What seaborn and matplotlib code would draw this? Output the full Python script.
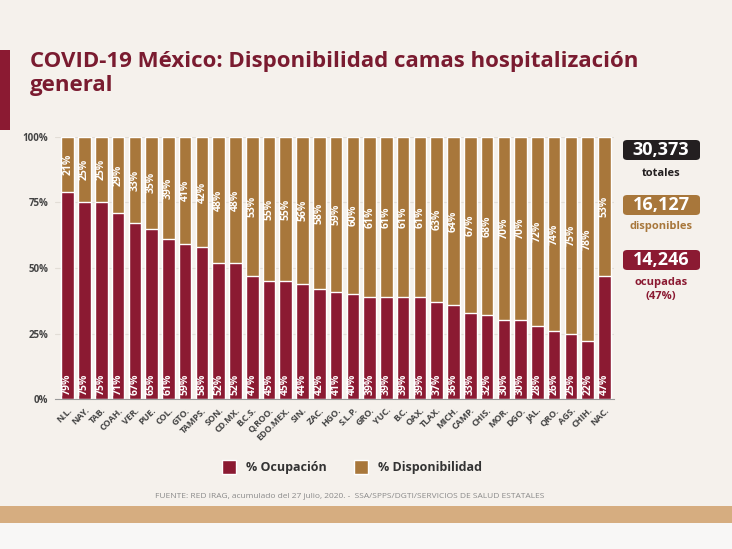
import matplotlib
matplotlib.use("Agg")
import matplotlib.pyplot as plt
from matplotlib.patches import Rectangle, Patch, FancyBboxPatch
import pandas as pd
import seaborn as sns

# datos por entidad (% ocupacion / % disponibilidad)
estados = ["N.L.", "NAY.", "TAB.", "COAH.", "VER.", "PUE.", "COL.", "GTO.", "TAMPS.",
           "SON.", "CD.MX.", "B.C.S.", "Q.ROO.", "EDO.MEX.", "SIN.", "ZAC.", "HGO.",
           "S.L.P.", "GRO.", "YUC.", "B.C.", "OAX.", "TLAX.", "MICH.", "CAMP.", "CHIS.",
           "MOR.", "DGO.", "JAL.", "QRO.", "AGS.", "CHIH.", "NAC."]
ocupacion = [79, 75, 75, 71, 67, 65, 61, 59, 58, 52, 52, 47, 45, 45, 44, 42, 41,
             40, 39, 39, 39, 39, 37, 36, 33, 32, 30, 30, 28, 26, 25, 22, 47]
disponibilidad = [21, 25, 25, 29, 33, 35, 39, 41, 42, 48, 48, 53, 55, 55, 56, 58, 59,
                  60, 61, 61, 61, 61, 63, 64, 67, 68, 70, 70, 72, 74, 75, 78, 53]
ytick_vals = [0, 25, 50, 75, 100]
ytick_labels = ["0%", "25%", "50%", "75%", "100%"]
resumen = ["30,373", "16,127", "14,246"]

rojo = "#8b1a32"
cafe = "#a8773b"
negro = "#231f20"

df = pd.DataFrame({"estado": estados, "ocupacion": ocupacion, "disponibilidad": disponibilidad})
df["total"] = df["ocupacion"] + df["disponibilidad"]

sns.set_style("white")
plt.rcParams["font.family"] = ["Open Sans", "DejaVu Sans"]

W, H = 732, 549
fig = plt.figure(figsize=(7.32, 5.49), dpi=100, facecolor="#f5f1ec")

# franja inferior y barra roja lateral
fig.patches.append(Rectangle((0, 0), 1, 26 / H, transform=fig.transFigure, fc="#f8f7f6", ec="none"))
fig.patches.append(Rectangle((0, 26 / H), 1, 17 / H, transform=fig.transFigure, fc="#d6ad80", ec="none"))
fig.patches.append(Rectangle((0, 1 - 130 / H), 10 / W, 80 / H, transform=fig.transFigure, fc=rojo, ec="none"))

fig.text(30 / W, 1 - 62 / H, "COVID-19 México: Disponibilidad camas hospitalización",
         fontsize=16, fontweight="bold", color="#7a1b30", va="center")
fig.text(30 / W, 1 - 86 / H, "general", fontsize=16, fontweight="bold", color="#7a1b30", va="center")

ax = fig.add_axes([55 / W, 150 / H, 559 / W, 262 / H])
ax.set_facecolor("none")
sns.barplot(data=df, x="estado", y="total", color=cafe, width=0.75, saturation=1,
            errorbar=None, ax=ax, zorder=2)
sns.barplot(data=df, x="estado", y="ocupacion", color=rojo, width=0.75, saturation=1,
            errorbar=None, ax=ax, zorder=3)

for i, (o, d) in enumerate(zip(ocupacion, disponibilidad)):
    ax.text(i, 1.5, f"{o}%", rotation=90, ha="center", va="bottom", color="white",
            fontsize=7.5, fontweight="bold", zorder=4)
    ax.text(i, o + d / 2, f"{d}%", rotation=90, ha="center", va="center", color="white",
            fontsize=7.5, fontweight="bold", zorder=4)

ax.set_xlim(-0.76, 32.57)
ax.set_ylim(0, 100)
ax.set_yticks(ytick_vals)
ax.set_yticklabels(ytick_labels, fontsize=7, fontweight="bold", color="#444444")
ax.set_xticks(range(len(estados)))
ax.set_xticklabels(estados, rotation=45, ha="right", rotation_mode="anchor",
                   fontsize=6.5, fontweight="bold", color="#444444")
ax.tick_params(length=0, pad=5)
ax.set_xlabel("")
ax.set_ylabel("")
ax.yaxis.grid(True, color="#e2ddd6", lw=0.8)
ax.set_axisbelow(True)
for s in ["top", "right", "left"]:
    ax.spines[s].set_visible(False)
ax.spines["bottom"].set_color("#9a9a9a")
ax.spines["bottom"].set_zorder(5)

# recuadros de resumen
cajas = [(150, negro), (205, cafe), (260, rojo)]
for (yc, col), txt in zip(cajas, resumen):
    fig.patches.append(FancyBboxPatch((623 / W, 1 - (yc + 10) / H), 77 / W, 20 / H,
                                      boxstyle="round,pad=0,rounding_size=0.006",
                                      transform=fig.transFigure, fc=col, ec="none"))
    fig.text(661 / W, 1 - yc / H, txt, ha="center", va="center", fontsize=13,
             fontweight="bold", color="white")
fig.text(661 / W, 1 - 173 / H, "totales", ha="center", va="center", fontsize=8,
         fontweight="bold", color=negro)
fig.text(661 / W, 1 - 227 / H, "disponibles", ha="center", va="center", fontsize=8,
         fontweight="bold", color=cafe)
fig.text(661 / W, 1 - 282 / H, "ocupadas", ha="center", va="center", fontsize=8,
         fontweight="bold", color=rojo)
fig.text(661 / W, 1 - 296 / H, "(47%)", ha="center", va="center", fontsize=8,
         fontweight="bold", color=rojo)

fig.legend(handles=[Patch(fc=rojo, label="% Ocupación"), Patch(fc=cafe, label="% Disponibilidad")],
           loc="center", bbox_to_anchor=(352 / W, 1 - 467 / H), ncol=2, frameon=False,
           prop={"weight": "bold", "size": 9}, handlelength=1.1, handleheight=1.3,
           columnspacing=2.2, labelcolor="#333333")

fig.text(155 / W, 1 - 497 / H,
         "FUENTE: RED IRAG, acumulado del 27 julio, 2020. -  SSA/SPPS/DGTI/SERVICIOS DE SALUD ESTATALES",
         fontsize=6, color="#8a8a8a", va="center")

fig.savefig("out.png", dpi=100, facecolor=fig.get_facecolor())
